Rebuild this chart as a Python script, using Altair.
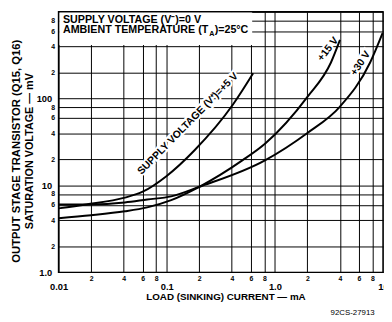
import altair as alt
import pandas as pd

# ---- curve data (load current mA, saturation voltage mV) ----
x_5v = [0.01, 0.018, 0.041, 0.06, 0.1, 0.18, 0.41, 0.63]
y_5v = [5.46, 6.06, 7.26, 8.49, 12.9, 25.3, 85.6, 196]
x_15v = [0.01, 0.02, 0.041, 0.066, 0.11, 0.2, 0.5, 0.81, 2.0, 3.3, 4.0]
y_15v = [4.21, 4.55, 5.05, 5.61, 6.8, 9.67, 19.5, 30.3, 105, 261, 475]
x_30v = [0.01, 0.02, 0.041, 0.066, 0.11, 0.2, 0.81, 2.0, 4.0, 7.6, 9.9]
y_30v = [6.06, 6.06, 6.38, 6.9, 7.5, 9.67, 19.5, 40.3, 81.2, 261, 569]
series_names = ["+5 V", "+15 V", "+30 V"]

# ---- curve labels ----
lab_text = ["SUPPLY VOLTAGE (V\u207a)=+5 V", "+15 V", "+30 V"]
lab_x = [0.157, 3.1, 6.2]
lab_y = [51.5, 370, 255]
lab_angle = [314.5, 308, 304]

# ---- ticks ----
x_tick_vals = [0.01, 0.02, 0.04, 0.06, 0.08, 0.1, 0.2, 0.4, 0.6, 0.8,
               1, 2, 4, 6, 8, 10]
x_tick_labels = ["0.01", "2", "4", "6", "8", "0.1", "2", "4", "6", "8",
                 "1.0", "2", "4", "6", "8", "10"]
x_major = [0.01, 0.1, 1, 10]
y_tick_vals = [1, 2, 4, 6, 8, 10, 20, 40, 60, 80, 100, 200, 400, 600, 800, 1000]
y_tick_labels = ["1.0", "2", "4", "6", "8", "10", "2", "4", "6", "8",
                 "100", "2", "4", "6", "8", ""]
y_major = [1, 10, 100, 1000]

# ---- white box behind header text ----
box_x = [0.0102, 0.617]
box_y = [415, 985]

FONT = "Liberation Sans"


def label_expr(vals, labels):
    expr = "''"
    for v, l in reversed(list(zip(vals, labels))):
        expr = f"abs(datum.value - {v}) < {v * 1e-4} ? '{l}' : ({expr})"
    return expr


def major_test(vals):
    return " || ".join(f"abs(datum.value - {v}) < {v * 1e-4}" for v in vals)


rows = []
for name, xs, ys in zip(series_names, [x_5v, x_15v, x_30v], [y_5v, y_15v, y_30v]):
    for i, (a, b) in enumerate(zip(xs, ys)):
        rows.append({"series": name, "i": i, "x": a, "y": b})
curves = pd.DataFrame(rows)

labels_df = pd.DataFrame({"text": lab_text, "x": lab_x, "y": lab_y, "angle": lab_angle})
box_df = pd.DataFrame({"x": [box_x[0]], "x2": [box_x[1]], "y": [box_y[0]], "y2": [box_y[1]]})

xscale = alt.Scale(type="log", domain=[0.01, 10])
yscale = alt.Scale(type="log", domain=[1, 1000])

xaxis = alt.Axis(
    values=x_tick_vals, labelExpr=label_expr(x_tick_vals, x_tick_labels),
    grid=True, gridColor="black", gridWidth=1, ticks=False, domain=False,
    title=None, labelFont=FONT, labelColor="black", labelFontWeight="bold",
    labelFontSize={"condition": {"test": major_test(x_major), "value": 9.5}, "value": 7},
    labelPadding={"condition": {"test": major_test(x_major), "value": 9}, "value": 2.5},
    labelFlush=False, labelOverlap=False, labelBaseline="top", labelAlign="center",
)
yaxis = alt.Axis(
    values=y_tick_vals, labelExpr=label_expr(y_tick_vals, y_tick_labels),
    grid=True, gridColor="black", gridWidth=1, ticks=False, domain=False,
    title=None, labelFont=FONT, labelColor="black", labelFontWeight="bold",
    labelFontSize={"condition": {"test": major_test(y_major), "value": 9.5}, "value": 7},
    labelPadding={"condition": {"test": major_test(y_major), "value": 7}, "value": 4},
    labelFlush=False, labelOverlap=False, labelBaseline="middle",
)

box = alt.Chart(box_df).mark_rect(color="white").encode(
    x=alt.X("x:Q", scale=xscale, axis=xaxis),
    x2="x2:Q",
    y=alt.Y("y:Q", scale=yscale, axis=yaxis),
    y2="y2:Q",
)

lines = alt.Chart(curves).mark_line(color="black", strokeWidth=2, interpolate="monotone").encode(
    x=alt.X("x:Q", scale=xscale),
    y=alt.Y("y:Q", scale=yscale),
    detail="series:N",
    order="i:Q",
)

halo = alt.Chart(labels_df).mark_text(
    font=FONT, fontSize=10.5, fontWeight="bold", color="white",
    stroke="white", strokeWidth=4, align="center", baseline="middle",
).encode(
    x=alt.X("x:Q", scale=xscale), y=alt.Y("y:Q", scale=yscale),
    text="text:N", angle=alt.Angle("angle:Q", scale=None),
)
labs = alt.Chart(labels_df).mark_text(
    font=FONT, fontSize=10.5, fontWeight="bold", color="black",
    align="center", baseline="middle",
).encode(
    x=alt.X("x:Q", scale=xscale), y=alt.Y("y:Q", scale=yscale),
    text="text:N", angle=alt.Angle("angle:Q", scale=None),
)

one = pd.DataFrame({"a": [0]})


def ann(txt, x, y, size, weight="bold", align="left", baseline="alphabetic", angle=0):
    kw = dict(text=txt, font=FONT, fontSize=size, fontWeight=weight, color="black",
              align=align, baseline=baseline)
    if angle:
        kw["angle"] = angle
    return alt.Chart(one).mark_text(**kw).encode(x=alt.value(x), y=alt.value(y))


texts = [
    ann("SUPPLY VOLTAGE (V\u207b)=0 V", 4.5, 11, 10.9),
    ann("AMBIENT TEMPERATURE (T", 4.5, 22, 10.9),
    ann("A", 153.5, 24.5, 7.3),
    ann(")=25\u00b0C", 159, 22, 10.9),
    ann("OUTPUT STAGE TRANSISTOR (Q15, Q16)", -42.5, 142, 11.5, align="center", baseline="middle", angle=270),
    ann("SATURATION VOLTAGE \u2014 mV", -29.5, 142, 11, align="center", baseline="middle", angle=270),
    ann("LOAD (SINKING) CURRENT \u2014 mA", 170.5, 291, 10, align="center", baseline="middle"),
    ann("92CS-27913", 299.5, 307, 8, weight="normal", align="center", baseline="middle"),
]

chart = alt.layer(box, halo, lines, labs, *texts).properties(
    width=330.5, height=265.4,
    autosize=alt.AutoSizeParams(type="none"),
    padding={"left": 51.5, "top": 1, "right": 1, "bottom": 46},
    background="white",
).configure_view(stroke="black", strokeWidth=1.5)

chart.save("out.html", embed_options={"renderer": "svg", "actions": False})
